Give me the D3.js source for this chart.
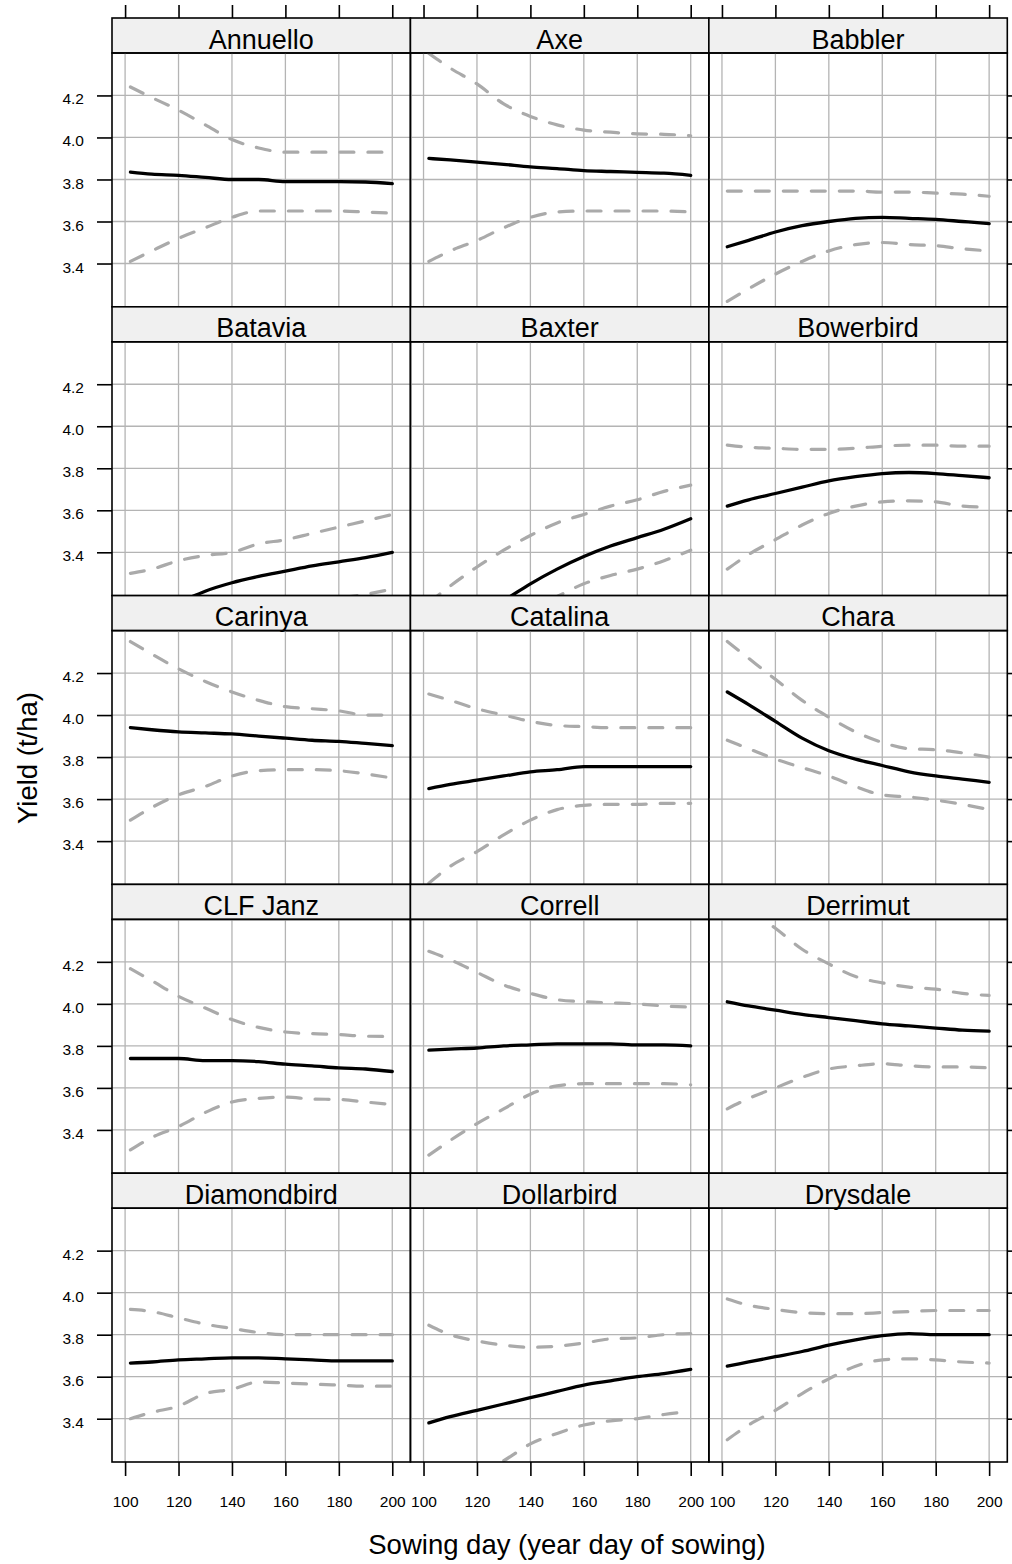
<!DOCTYPE html>
<html><head><meta charset="utf-8">
<script src="https://cdn.jsdelivr.net/npm/d3@7"></script>
<style>body{margin:0;background:#fff}svg{display:block}</style>
</head><body><svg id="c" width="1012" height="1564"></svg>
<script>
// ---------- data ----------
const varieties = ["Annuello","Axe","Babbler","Batavia","Baxter","Bowerbird",
  "Carinya","Catalina","Chara","CLF Janz","Correll","Derrimut",
  "Diamondbird","Dollarbird","Drysdale"];
const sowDays = [102,110,120,130,140,150,160,170,180,190,200];
const meanYield = [
  [3.835,3.825,3.82,3.81,3.80,3.80,3.79,3.79,3.79,3.788,3.78],
  [3.90,3.893,3.883,3.872,3.86,3.852,3.842,3.838,3.834,3.83,3.82],
  [3.48,3.51,3.55,3.58,3.60,3.615,3.62,3.615,3.61,3.60,3.59],
  [3.06,3.10,3.16,3.215,3.255,3.285,3.31,3.335,3.355,3.375,3.40],
  [2.98,3.04,3.10,3.17,3.25,3.32,3.38,3.43,3.47,3.51,3.56],
  [3.62,3.65,3.68,3.71,3.74,3.76,3.775,3.78,3.775,3.765,3.755],
  [3.94,3.93,3.92,3.915,3.91,3.90,3.89,3.88,3.875,3.865,3.855],
  [3.65,3.67,3.69,3.71,3.73,3.74,3.755,3.755,3.755,3.755,3.755],
  [4.11,4.05,3.97,3.89,3.83,3.79,3.76,3.73,3.71,3.695,3.68],
  [3.74,3.74,3.74,3.73,3.73,3.725,3.713,3.705,3.695,3.69,3.678],
  [3.78,3.785,3.79,3.80,3.805,3.81,3.81,3.81,3.805,3.805,3.80],
  [4.01,3.99,3.97,3.95,3.935,3.92,3.905,3.895,3.885,3.875,3.87],
  [3.665,3.67,3.68,3.685,3.69,3.69,3.685,3.68,3.675,3.675,3.675],
  [3.38,3.41,3.44,3.47,3.50,3.53,3.56,3.58,3.60,3.615,3.635],
  [3.65,3.67,3.695,3.72,3.75,3.775,3.795,3.805,3.80,3.80,3.80]
];
const upperYield = [
  [4.24,4.19,4.13,4.06,3.99,3.95,3.93,3.93,3.93,3.93,3.93],
  [4.40,4.33,4.255,4.16,4.10,4.06,4.035,4.025,4.017,4.015,4.008],
  [3.745,3.745,3.745,3.745,3.745,3.745,3.74,3.74,3.735,3.73,3.72],
  [3.30,3.32,3.36,3.385,3.40,3.44,3.46,3.49,3.52,3.55,3.58],
  [3.16,3.24,3.33,3.41,3.48,3.54,3.58,3.62,3.65,3.69,3.72],
  [3.91,3.90,3.895,3.89,3.89,3.895,3.905,3.91,3.91,3.905,3.905],
  [4.35,4.29,4.22,4.16,4.11,4.07,4.04,4.03,4.02,4.00,4.00],
  [4.10,4.07,4.03,4.00,3.97,3.95,3.945,3.94,3.94,3.94,3.94],
  [4.35,4.27,4.17,4.07,3.99,3.92,3.87,3.84,3.835,3.82,3.80],
  [4.167,4.11,4.036,3.98,3.925,3.888,3.866,3.858,3.854,3.846,3.845],
  [4.25,4.21,4.15,4.09,4.05,4.02,4.01,4.005,4.00,3.99,3.985],
  [4.52,4.45,4.36,4.26,4.19,4.13,4.10,4.08,4.07,4.05,4.04],
  [3.92,3.91,3.88,3.85,3.83,3.81,3.80,3.80,3.80,3.80,3.80],
  [3.845,3.80,3.77,3.75,3.74,3.745,3.76,3.78,3.785,3.80,3.805],
  [3.97,3.94,3.92,3.905,3.90,3.90,3.905,3.91,3.915,3.915,3.915]
];
const lowerYield = [
  [3.41,3.46,3.52,3.57,3.62,3.65,3.65,3.65,3.65,3.645,3.64],
  [3.41,3.46,3.51,3.57,3.62,3.645,3.65,3.65,3.65,3.65,3.645],
  [3.22,3.28,3.35,3.41,3.46,3.49,3.50,3.49,3.485,3.47,3.46],
  [2.86,2.90,2.95,3.00,3.05,3.09,3.12,3.15,3.18,3.20,3.225],
  [2.85,2.91,2.97,3.07,3.13,3.19,3.25,3.29,3.32,3.36,3.41],
  [3.32,3.39,3.46,3.53,3.585,3.62,3.64,3.645,3.64,3.62,3.615],
  [3.50,3.56,3.62,3.66,3.71,3.735,3.74,3.74,3.735,3.72,3.70],
  [3.20,3.28,3.35,3.43,3.50,3.55,3.57,3.575,3.575,3.58,3.58],
  [3.88,3.84,3.79,3.75,3.71,3.66,3.62,3.61,3.595,3.575,3.55],
  [3.305,3.364,3.416,3.483,3.533,3.55,3.556,3.547,3.545,3.533,3.52],
  [3.28,3.35,3.43,3.50,3.57,3.61,3.62,3.62,3.62,3.62,3.615],
  [3.50,3.55,3.60,3.65,3.69,3.705,3.715,3.705,3.70,3.70,3.695],
  [3.40,3.43,3.46,3.52,3.54,3.575,3.57,3.565,3.56,3.555,3.555],
  [3.02,3.07,3.13,3.20,3.28,3.33,3.37,3.39,3.40,3.42,3.435],
  [3.30,3.37,3.44,3.52,3.59,3.65,3.68,3.685,3.68,3.67,3.665]
];
const xTicks = [100,120,140,160,180,200];
const yTicks = [3.4,3.6,3.8,4.0,4.2];
const xTitle = "Sowing day (year day of sowing)";
const yTitle = "Yield (t/ha)";

// ---------- layout ----------
const FONT = "'Liberation Sans', Arial, Helvetica, sans-serif";
const L = 112, R = 1007.3, T = 18, B = 1462;
const nCol = 3, nRow = 5, stripH = 35;
const colW = (R - L) / nCol, rowH = (B - T) / nRow, panelH = rowH - stripH;

const x = d3.scaleLinear().domain([95.1, 206.8]).range([0, colW]);
const y = d3.scaleLinear().domain([3.194, 4.402]).range([panelH, 0]);

const svg = d3.select("#c").style("font-family", FONT);
svg.append("rect").attr("width", 1012).attr("height", 1564).attr("fill", "#fff");

const line = d3.line().x((d, i) => x(sowDays[i])).y(d => y(d)).curve(d3.curveMonotoneX);

varieties.forEach((name, k) => {
  const c = k % nCol, r = Math.floor(k / nCol);
  const gx = L + c * colW, gy = T + r * rowH;
  const g = svg.append("g").attr("transform", `translate(${gx},${gy})`);
  // strip
  g.append("rect").attr("width", colW).attr("height", stripH)
    .attr("fill", "#f0f0f0").attr("stroke", "#000").attr("stroke-width", 1.6);
  g.append("text").attr("x", colW / 2).attr("y", 30.5).attr("text-anchor", "middle")
    .attr("font-size", 27).attr("fill", "#000").text(name);
  const p = g.append("g").attr("transform", `translate(0,${stripH})`);
  const cid = "clip" + k;
  p.append("clipPath").attr("id", cid).append("rect").attr("width", colW).attr("height", panelH);
  // grid
  p.selectAll(".vg").data(xTicks).join("line")
    .attr("x1", d => x(d)).attr("x2", d => x(d)).attr("y1", 0).attr("y2", panelH)
    .attr("stroke", "#b4b4b4").attr("stroke-width", 1.3);
  p.selectAll(".hg").data(yTicks).join("line")
    .attr("y1", d => y(d)).attr("y2", d => y(d)).attr("x1", 0).attr("x2", colW)
    .attr("stroke", "#b4b4b4").attr("stroke-width", 1.3);
  const lines = p.append("g").attr("clip-path", `url(#${cid})`);
  [upperYield[k], lowerYield[k]].forEach(arr => {
    lines.append("path").attr("d", line(arr)).attr("fill", "none")
      .attr("stroke", "#aaaaaa").attr("stroke-width", 3.2)
      .attr("stroke-dasharray", "14,14").attr("stroke-linecap", "round");
  });
  lines.append("path").attr("d", line(meanYield[k])).attr("fill", "none")
    .attr("stroke", "#000").attr("stroke-width", 3.3).attr("stroke-linecap", "round");
  p.append("rect").attr("width", colW).attr("height", panelH)
    .attr("fill", "none").attr("stroke", "#000").attr("stroke-width", 1.6);

  // axes
  if (r === 0) {
    g.append("g").call(d3.axisTop(x).tickValues(xTicks).tickSize(13).tickFormat(""))
      .call(a => { a.select(".domain").remove(); a.selectAll("line").attr("stroke-width", 1.6); });
  }
  if (r === nRow - 1) {
    const ax = p.append("g").attr("transform", `translate(0,${panelH})`)
      .call(d3.axisBottom(x).tickValues(xTicks).tickSize(14).tickPadding(0).tickFormat(d3.format("d")));
    ax.select(".domain").remove();
    ax.selectAll("line").attr("stroke-width", 1.6);
    ax.selectAll("text").attr("y", 44.5).attr("dy", null).attr("font-size", 15.5)
      .attr("font-family", FONT).attr("fill", "#000");
  }
  if (c === 0) {
    const ay = p.append("g").call(d3.axisLeft(y).tickValues(yTicks).tickSize(15).tickFormat(d3.format(".1f")));
    ay.select(".domain").remove();
    ay.selectAll("line").attr("stroke-width", 1.6);
    ay.selectAll("text").attr("x", -28).attr("dy", "0.55em").attr("font-size", 15.5)
      .attr("font-family", FONT).attr("fill", "#000");
  }
  if (c === nCol - 1) {
    const ay = p.append("g").attr("transform", `translate(${colW},0)`)
      .call(d3.axisRight(y).tickValues(yTicks).tickSize(14).tickFormat(""));
    ay.select(".domain").remove();
    ay.selectAll("line").attr("stroke-width", 1.6);
  }
});

svg.append("text").attr("x", 567).attr("y", 1554).attr("text-anchor", "middle")
  .attr("font-size", 27.5).attr("fill", "#000").text(xTitle);
svg.append("text").attr("transform", "translate(37,758) rotate(-90)").attr("text-anchor", "middle")
  .attr("font-size", 27.5).attr("fill", "#000").text(yTitle);
</script>
</body></html>
